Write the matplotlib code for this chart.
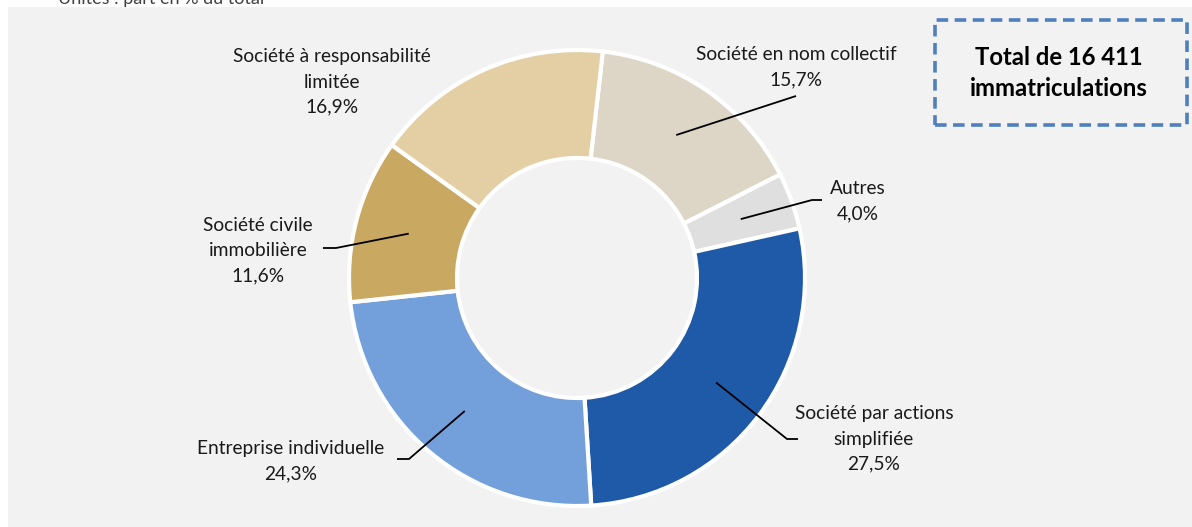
import numpy as np
import matplotlib.pyplot as plt
from matplotlib.patches import Rectangle

# Parts des immatriculations par forme juridique (en %)
categories = ["Société en nom collectif", "Autres", "Société par actions simplifiée",
              "Entreprise individuelle", "Société civile immobilière",
              "Société à responsabilité limitée"]
labels = ["Société en nom collectif", "Autres", "Société par actions\nsimplifiée",
          "Entreprise individuelle", "Société civile\nimmobilière",
          "Société à responsabilité\nlimitée"]
parts = [15.7, 4.0, 27.5, 24.3, 11.6, 16.9]
colors = ["#ddd6c6", "#dfdfdf", "#1f5aa8", "#739fdb", "#c9a862", "#e4cfa4"]
total = "16 411"

W, H = 1192, 527
BG = "#f2f2f2"

plt.rcParams['font.family'] = ['Lato', 'DejaVu Sans']

fig = plt.figure(figsize=(W / 100, H / 100), dpi=100)
fig.patch.set_facecolor("white")
ax = fig.add_axes([0, 0, 1, 1])
ax.set_xlim(0, W)
ax.set_ylim(0, H)
ax.set_aspect("equal")
ax.axis("off")

# grey panel behind the chart
ax.add_patch(Rectangle((8, 0), W - 8, H - 7, facecolor=BG, edgecolor="none", zorder=0))
fig.text(58 / W, 1 - 4 / H, "Unités : part en % du total", fontsize=13,
         color="#404040", va="baseline", ha="left")

cx, cy = 577, H - 278
R, r_in = 228, 120
start = 83.5
wedges, _ = ax.pie(parts, colors=colors, startangle=start, counterclock=False,
                   radius=R, center=(cx, cy), frame=True,
                   wedgeprops=dict(width=R - r_in, edgecolor="white", linewidth=3))
ax.set_xlim(0, W)
ax.set_ylim(0, H)
ax.axis("off")

# label block centre and leader path (elbow, end) in pixel layout, None = no leader
layout = [
    ((796, 67), [(796, 96)]),
    ((858, 201), [(812, 200), (822, 200)]),
    ((874, 439), [(787, 439), (798, 439)]),
    ((291, 461), [(409, 459), (397, 459)]),
    ((258, 251), [(336, 248), (323, 248)]),
    ((332, 82), None),
]

cum = 0.0
for lab, p, (pos, path) in zip(labels, parts, layout):
    mid = np.deg2rad(start - (cum + p / 2) * 3.6)
    cum += p
    txt = f"{lab}\n{p:.1f}%".replace(".", ",")
    ax.text(pos[0], H - pos[1], txt, ha="center", va="center", fontsize=13.8,
            color="#1a1a1a", linespacing=1.58, zorder=5)
    if path:
        rm = (R + r_in) / 2
        xs = [cx + rm * np.cos(mid)] + [q[0] for q in path]
        ys = [cy + rm * np.sin(mid)] + [H - q[1] for q in path]
        ax.plot(xs, ys, color="black", lw=1.3, zorder=4, solid_capstyle="butt")

# total box
ax.add_patch(Rectangle((935, H - 125), 252, 105, facecolor="none",
                       edgecolor="#4f7fbd", lw=2.6, linestyle=(0, (3.2, 1.8)), zorder=5))
ax.text(1059, H - 73, f"Total de {total}\nimmatriculations", ha="center", va="center",
        fontsize=17.2, fontweight="bold", color="black", linespacing=1.4, zorder=6)

fig.savefig("out.png", dpi=100, facecolor=fig.get_facecolor())
